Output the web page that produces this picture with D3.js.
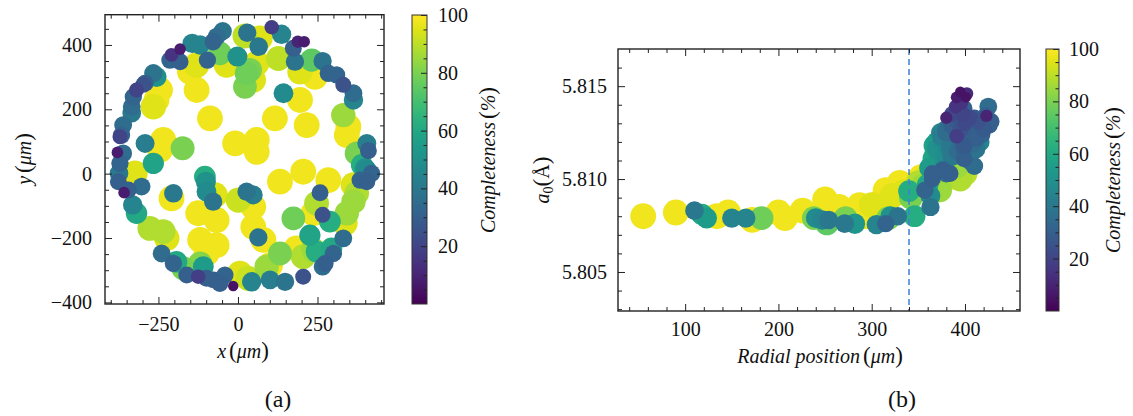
<!DOCTYPE html>
<html><head><meta charset="utf-8">
<script src="https://cdn.jsdelivr.net/npm/d3@7"></script>
<style>
body{margin:0;background:#fff}
</style>
</head><body>
<svg id="c" width="1133" height="416" font-family="Liberation Serif"></svg>
<script>
// ---------- DATA ----------
// Panel (a): grain map positions (µm) and completeness (%)
const mapX = [106,29,137,-48,-67,-78,69,22,65,-182,-209,-182,-214,-144,-119,-57,-96,-2,174,188,208,127,179,232,266,38,27,59,-130,-151,-36,284,310,331,363,363,22,48,-130,143,195,195,242,-266,-256,-292,-319,-329,-334,-334,-298,-245,-256,-266,-88,116,216,331,347,342,-361,-366,-371,-292,-235,-245,-174,-9,59,59,405,410,-379,-361,-371,-374,-376,-266,-324,-358,-345,-303,-104,-101,-99,-203,-209,-78,-72,-125,-67,-331,-319,373,389,405,420,384,405,399,363,373,205,132,284,258,27,48,1,48,247,266,289,174,237,363,342,336,331,226,64,48,80,132,101,184,205,237,294,300,274,266,247,-277,-235,-224,-119,-67,-99,-240,-203,-193,-172,-119,-109,-161,-125,-99,-78,-57,-41,-15,6,32,43,90,101,148,205];
const mapY = [455,438,433,443,426,410,421,428,395,387,369,348,353,405,400,374,353,364,390,410,410,358,348,353,350,322,312,343,338,317,338,312,307,276,250,229,270,291,260,250,229,317,301,312,301,281,260,239,208,188,276,260,229,208,172,172,151,182,146,120,151,120,115,94,105,74,79,94,105,68,94,71,66,63,32,1,-25,32,1,-59,-51,-40,-9,-25,-56,-61,-77,-87,-66,-123,-144,-97,-123,63,27,11,1,-20,-25,17,-35,-61,6,-25,-20,-59,-56,-66,-82,-103,-92,-128,-149,-139,-123,-87,-123,-154,-201,-191,-198,-165,-206,-248,-284,-232,-258,-237,-232,-248,-279,-289,-242,-170,-180,-201,-206,-222,-248,-248,-279,-274,-294,-279,-289,-315,-320,-325,-330,-341,-315,-349,-310,-325,-336,-289,-330,-336,-320];
const mapC = [18,38,45,38,35,32,95,90,40,8,15,30,32,45,45,78,32,50,30,10,8,90,38,75,38,80,78,95,95,98,95,32,32,25,35,45,80,95,98,48,98,95,98,38,50,30,20,32,35,40,25,98,98,95,98,98,98,85,98,98,35,32,20,42,98,98,80,98,98,98,42,30,8,35,32,40,30,58,95,8,30,35,62,50,48,40,98,38,95,98,98,45,60,80,62,48,32,32,30,50,95,88,98,98,98,30,38,42,92,98,88,25,62,78,98,85,85,95,35,58,38,98,98,80,98,98,88,85,60,32,30,35,62,88,88,95,98,98,98,35,32,60,80,82,55,30,18,30,30,30,32,5,95,92,45,85,42,38,25];

// Panel (b): radial position (µm), lattice parameter a0 (Å), completeness (%)
const radial = [55,90,110,118,123,134,146,150,165,172,182,200,207,226,250,238,240,247,254,252,265,272,271,282,287,294,299,305,315,318,320,328,315,330,346,340,353,350,363,363,357,365,360,373,382,380,390,395,376,367,370,376,380,384,380,391,390,391,395,401,402,399,410,422,425,423,428,418,406,395,391,404,384,399,403,399,380,373,391,384,365,362,385,395,410,415,388,400,375,370,
  372,378,386,392,398,408,412,418,420,426,414,405,398,392,386,380,374,368,366,386,396,384,412,416,405,410,
  335,345,358,368,400,322,310,300,355,342];
const latticeA0 = [5.8080,5.8082,5.8083,5.8081,5.8079,5.8080,5.8082,5.8079,5.8079,5.8078,5.8079,5.8082,5.8079,5.8083,5.8089,5.8079,5.8079,5.8078,5.8078,5.8076,5.8085,5.8079,5.8076,5.8076,5.8086,5.8080,5.8084,5.80755,5.8076,5.8079,5.8080,5.8080,5.8094,5.8098,5.8080,5.80935,5.8101,5.8098,5.8085,5.8091,5.8094,5.8100,5.8097,5.8094,5.8101,5.8103,5.8101,5.8100,5.8105,5.8118,5.8116,5.8121,5.8125,5.8132,5.8133,5.8134,5.8139,5.8144,5.8147,5.8144,5.8146,5.8138,5.8133,5.8134,5.8139,5.8134,5.8131,5.8130,5.8128,5.8126,5.8123,5.8123,5.8120,5.8118,5.8115,5.8111,5.8113,5.8111,5.8107,5.8103,5.8103,5.8106,5.8118,5.8120,5.8125,5.8128,5.8128,5.8130,5.8123,5.8120,
  5.8108,5.8110,5.8112,5.8115,5.8117,5.8119,5.8122,5.8124,5.8127,5.8129,5.8131,5.8133,5.8135,5.8131,5.8129,5.8127,5.8125,5.8114,5.8111,5.8135,5.8141,5.8116,5.8116,5.8120,5.8110,5.8107,
  5.8093,5.8097,5.8100,5.8100,5.8103,5.8091,5.8088,5.8086,5.8096,5.8090];
const radialC = [98,98,40,60,55,98,98,45,45,98,78,98,98,98,98,80,48,45,40,75,98,80,40,52,98,98,98,45,32,80,50,38,98,98,62,62,98,88,38,48,32,30,60,85,98,35,98,88,30,58,50,48,35,30,10,25,15,8,5,5,12,30,28,30,35,10,30,35,45,25,18,38,45,28,42,30,48,55,85,30,30,55,40,35,30,35,30,22,42,55,
  55,50,40,35,32,35,30,32,28,30,25,22,20,28,32,38,45,58,60,22,15,42,38,45,40,35,
  95,98,95,92,90,95,98,95,85,80];

// Tick labels
const mapXTicks = [-250, 0, 250];
const mapYTicks = [-400, -200, 0, 200, 400];
const radTicks = [100, 200, 300, 400];
const a0Ticks = [5.805, 5.810, 5.815];
const cbarTicks = [20, 40, 60, 80, 100];
const boundaryRadius = 340;

// ---------- DRAWING ----------
const svg = d3.select('#c');
const AX = '#222';
const FONT = 'Liberation Serif';
const rOf = c => 3 + 10 * Math.sqrt(c / 100);
const color = d3.scaleSequential(d3.interpolateViridis).domain([0, 100]);

function styleAxis(sel){
  sel.attr('font-family', FONT);
  sel.select('.domain').remove();
  sel.selectAll('line').attr('stroke', AX).attr('stroke-width', 1);
  sel.selectAll('text').attr('font-size', 20).attr('fill', '#111').attr('font-family', FONT);
}

function frame(x, y, xMaj, xMin, yMaj, yMin, yFmt, padX, padY){
  const [x0, x1] = x.range(), [y0, y1] = y.range();
  const g = svg.append('g');
  const M = 7, m = 4;
  g.append('g').attr('transform', `translate(0,${y0})`).call(d3.axisBottom(x).tickValues(xMin).tickSizeInner(-m).tickSizeOuter(0).tickFormat('')).call(styleAxis);
  g.append('g').attr('transform', `translate(0,${y0})`).call(d3.axisBottom(x).tickValues(xMaj).tickSizeInner(-M).tickSizeOuter(0).tickPadding(padX)).call(styleAxis);
  g.append('g').attr('transform', `translate(0,${y1})`).call(d3.axisTop(x).tickValues(xMin).tickSizeInner(-m).tickSizeOuter(0).tickFormat('')).call(styleAxis);
  g.append('g').attr('transform', `translate(0,${y1})`).call(d3.axisTop(x).tickValues(xMaj).tickSizeInner(-M).tickSizeOuter(0).tickFormat('')).call(styleAxis);
  g.append('g').attr('transform', `translate(${x0},0)`).call(d3.axisLeft(y).tickValues(yMin).tickSizeInner(-m).tickSizeOuter(0).tickFormat('')).call(styleAxis);
  g.append('g').attr('transform', `translate(${x0},0)`).call(d3.axisLeft(y).tickValues(yMaj).tickSizeInner(-M).tickSizeOuter(0).tickPadding(padY).tickFormat(yFmt)).call(styleAxis);
  g.append('g').attr('transform', `translate(${x1},0)`).call(d3.axisRight(y).tickValues(yMin).tickSizeInner(-m).tickSizeOuter(0).tickFormat('')).call(styleAxis);
  g.append('g').attr('transform', `translate(${x1},0)`).call(d3.axisRight(y).tickValues(yMaj).tickSizeInner(-M).tickSizeOuter(0).tickFormat('')).call(styleAxis);
  g.append('rect').attr('x', x0).attr('y', y1).attr('width', x1 - x0).attr('height', y0 - y1)
    .attr('fill', 'none').attr('stroke', AX).attr('stroke-width', 1.4);
}

function colorbar(id, x0, x1, yTop, yBot, pad){
  const defs = svg.append('defs');
  const grad = defs.append('linearGradient').attr('id', id).attr('x1', 0).attr('y1', 1).attr('x2', 0).attr('y2', 0);
  d3.range(0, 1.0001, 0.05).forEach(t => grad.append('stop').attr('offset', t).attr('stop-color', d3.interpolateViridis(t)));
  svg.append('rect').attr('x', x0).attr('y', yTop).attr('width', x1 - x0).attr('height', yBot - yTop).attr('fill', `url(#${id})`);
  const cy = d3.scaleLinear([0, 100], [yBot, yTop]);
  const minor = d3.range(5, 100, 5).filter(v => !cbarTicks.includes(v));
  svg.append('g').attr('transform', `translate(${x1},0)`).call(d3.axisRight(cy).tickValues(minor).tickSizeInner(-3.5).tickSizeOuter(0).tickFormat('')).call(styleAxis);
  svg.append('g').attr('transform', `translate(${x1},0)`).call(d3.axisRight(cy).tickValues(cbarTicks).tickSizeInner(-6).tickSizeOuter(0).tickPadding(pad)).call(styleAxis);
  svg.append('rect').attr('x', x0).attr('y', yTop).attr('width', x1 - x0).attr('height', yBot - yTop)
    .attr('fill', 'none').attr('stroke', '#333').attr('stroke-width', 1);
}

function label(sel, parts){
  sel.attr('font-family', FONT).attr('font-size', 20).attr('fill', '#111');
  parts.forEach(p => {
    const t = sel.append('tspan').attr('font-family', FONT).text(p.t);
    if (p.i) t.attr('font-style', 'italic');
    if (p.s) t.attr('font-size', p.s);
    if (p.dx) t.attr('dx', p.dx);
    if (p.dy) t.attr('dy', p.dy);
  });
}
function cbTitle(x, y){
  label(svg.append('text').attr('transform', `translate(${x},${y}) rotate(-90)`).attr('text-anchor', 'middle'),
    [{t:'Completeness', i:1}, {t:'(', s:23, dx:3}, {t:'%', i:1}, {t:')', s:23}]);
}

// ----- Panel (a)
const xA = d3.scaleLinear([-418, 459], [105, 384]);
const yA = d3.scaleLinear([-405, 494], [304, 14.7]);
const ptsA = mapX.map((v, i) => ({x: v, y: mapY[i], c: mapC[i]})).sort((a, b) => b.c - a.c);
svg.append('g').selectAll('circle').data(ptsA).join('circle')
  .attr('cx', d => xA(d.x)).attr('cy', d => yA(d.y)).attr('r', d => rOf(d.c))
  .attr('fill', d => color(d.c));
frame(xA, yA, mapXTicks, d3.range(-400, 451, 50).filter(v => !mapXTicks.includes(v)),
      mapYTicks, d3.range(-400, 451, 50).filter(v => !mapYTicks.includes(v)), d3.format('d'), 13, 13);
colorbar('gA', 412, 427, 15, 304, 11);
cbTitle(495, 160);

label(svg.append('text').attr('x', 243).attr('y', 358).attr('text-anchor', 'middle'),
  [{t:'x', i:1}, {t:'(', s:23, dx:3}, {t:'μm', i:1}, {t:')', s:23}]);
label(svg.append('text').attr('transform', 'translate(31,159) rotate(-90)').attr('text-anchor', 'middle'),
  [{t:'y', i:1}, {t:'(', s:23, dx:3}, {t:'μm', i:1}, {t:')', s:23}]);
label(svg.append('text').attr('x', 278).attr('y', 407).attr('text-anchor', 'middle'), [{t:'(a)', s:24}]);

// ----- Panel (b)
const xB = d3.scaleLinear([28, 459], [618, 1020]);
const yB = d3.scaleLinear([5.8029, 5.8170], [311, 49]);
const ptsB = radial.map((v, i) => ({r: v, a: latticeA0[i], c: radialC[i]})).sort((a, b) => b.c - a.c);
svg.append('g').selectAll('circle').data(ptsB).join('circle')
  .attr('cx', d => xB(d.r)).attr('cy', d => yB(d.a)).attr('r', d => rOf(d.c))
  .attr('fill', d => color(d.c));
svg.append('line').attr('x1', xB(boundaryRadius)).attr('x2', xB(boundaryRadius)).attr('y1', 49).attr('y2', 311)
  .attr('stroke', '#3f7fd6').attr('stroke-width', 1.5).attr('stroke-dasharray', '6,4');
frame(xB, yB, radTicks, d3.range(40, 460, 20).filter(v => !radTicks.includes(v)),
      a0Ticks, d3.range(5803, 5817).map(v => v / 1000).filter(v => !a0Ticks.some(t => Math.abs(t - v) < 1e-9)),
      d3.format('.3f'), 11, 11);
colorbar('gB', 1046, 1059, 49, 311, 10);
cbTitle(1120, 180);

label(svg.append('text').attr('x', 820).attr('y', 363).attr('text-anchor', 'middle'),
  [{t:'Radial position', i:1}, {t:'(', s:23, dx:3}, {t:'μm', i:1}, {t:')', s:23}]);
label(svg.append('text').attr('transform', 'translate(549,180) rotate(-90)').attr('text-anchor', 'middle'),
  [{t:'a', i:1}, {t:'0', s:14, dy:4}, {t:'(', s:23, dy:-4}, {t:'Å'}, {t:')', s:23}]);
label(svg.append('text').attr('x', 902).attr('y', 407).attr('text-anchor', 'middle'), [{t:'(b)', s:24}]);
</script>
</body></html>
